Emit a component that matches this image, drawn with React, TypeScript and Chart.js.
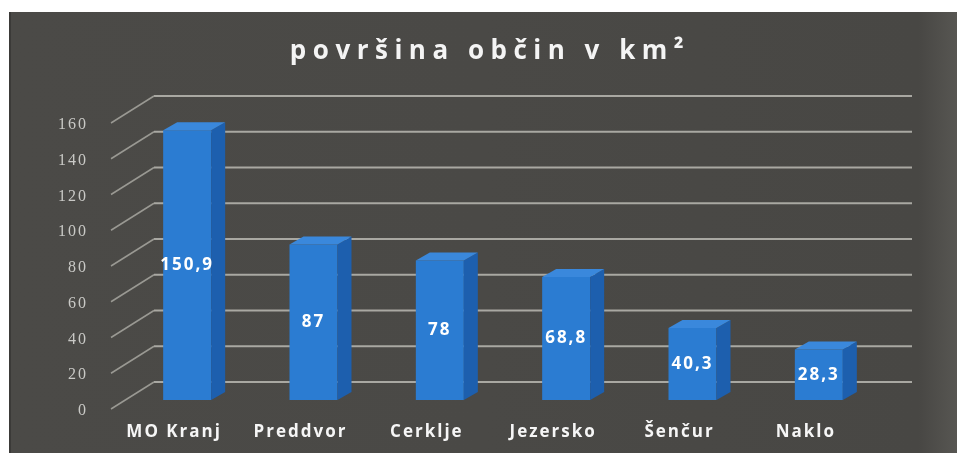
import React, { useEffect, useRef } from "react";
import { Chart, registerables } from "chart.js";

Chart.register(...registerables);

const categories = ["MO Kranj", "Preddvor", "Cerklje", "Jezersko", "Šenčur", "Naklo"];
const areaValues = [150.9, 87, 78, 68.8, 40.3, 28.3];
const yMin = 0;
const yMax = 160;
const yStep = 20;
const titleText = "površina občin v km²";

const W = 957;
const H = 455;
const BACK = { dx: 30, dy: -18 };
const FRONT = { dx: -13, dy: 9 };
const DEPTH = { dx: 14, dy: -8 };

const fmt = (v: number) => String(v).replace(".", ",");

const scenePlugin = {
  id: "scene3d",
  beforeDraw(chart: any) {
    const ctx = chart.ctx as CanvasRenderingContext2D;
    const area = chart.chartArea;
    const ys = chart.scales.y;
    ctx.save();
    ctx.fillStyle = "#ffffff";
    ctx.fillRect(0, 0, W, H);
    const g = ctx.createLinearGradient(9, 0, W, 0);
    g.addColorStop(0, "#4b4a47");
    g.addColorStop(0.5, "#4a4946");
    g.addColorStop(0.96, "#484744");
    g.addColorStop(1, "#575652");
    ctx.fillStyle = g;
    ctx.fillRect(9, 12, W - 9, 441);
    ctx.fillStyle = "#3b3a38";
    ctx.fillRect(9, 12, 2, 441);

    // title
    ctx.fillStyle = "#f4f4f4";
    ctx.font = 'bold 26px "Open Sans"';
    (ctx as any).letterSpacing = "6.5px";
    ctx.textAlign = "center";
    ctx.textBaseline = "alphabetic";
    ctx.fillText(titleText, 490, 59);
    (ctx as any).letterSpacing = "0px";

    // grid: back wall + side wall diagonals
    for (let v = yMin; v <= yMax; v += yStep) {
      const y = ys.getPixelForValue(v);
      ctx.strokeStyle = "#a9a8a2";
      ctx.lineWidth = 2;
      ctx.beginPath();
      ctx.moveTo(area.left + BACK.dx, y + BACK.dy);
      ctx.lineTo(area.right + BACK.dx, y + BACK.dy);
      ctx.stroke();
      ctx.lineWidth = 1.5;
      ctx.strokeStyle = "#9a9993";
      ctx.beginPath();
      ctx.moveTo(area.left + FRONT.dx, y + FRONT.dy);
      ctx.lineTo(area.left + BACK.dx, y + BACK.dy);
      ctx.stroke();
    }
    ctx.restore();
    (ctx as any).letterSpacing = "2px";
  },
  afterDatasetsDraw(chart: any) {
    const ctx = chart.ctx as CanvasRenderingContext2D;
    const meta = chart.getDatasetMeta(0);
    ctx.save();
    (ctx as any).letterSpacing = "0px";
    meta.data.forEach((el: any) => {
      const L = el.x - el.width / 2;
      const R = el.x + el.width / 2;
      const T = el.y;
      const B = el.base;
      // side face
      ctx.fillStyle = "#1d5fae";
      ctx.beginPath();
      ctx.moveTo(R, T);
      ctx.lineTo(R + DEPTH.dx, T + DEPTH.dy);
      ctx.lineTo(R + DEPTH.dx, B + DEPTH.dy);
      ctx.lineTo(R, B);
      ctx.closePath();
      ctx.fill();
      // top face
      ctx.fillStyle = "#3a88dc";
      ctx.beginPath();
      ctx.moveTo(L, T);
      ctx.lineTo(R, T);
      ctx.lineTo(R + DEPTH.dx, T + DEPTH.dy);
      ctx.lineTo(L + DEPTH.dx, T + DEPTH.dy);
      ctx.closePath();
      ctx.fill();
    });
    // data labels
    ctx.fillStyle = "#ffffff";
    ctx.font = 'bold 17px "Open Sans"';
    (ctx as any).letterSpacing = "2px";
    ctx.textAlign = "center";
    ctx.textBaseline = "middle";
    meta.data.forEach((el: any, i: number) => {
      ctx.fillText(fmt(areaValues[i]), el.x, (el.y + el.base) / 2);
    });
    ctx.restore();
    (ctx as any).letterSpacing = "2px";
  },
  afterDraw(chart: any) {
    (chart.ctx as any).letterSpacing = "0px";
  },
};

export default function App() {
  const ref = useRef<HTMLCanvasElement | null>(null);
  useEffect(() => {
    if (!ref.current) return;
    const chart = new Chart(ref.current, {
      type: "bar",
      data: {
        labels: categories,
        datasets: [
          {
            data: areaValues,
            backgroundColor: "#2b7cd2",
            borderWidth: 0,
            barPercentage: 0.38,
            categoryPercentage: 1,
          },
        ],
      },
      options: {
        animation: false,
        responsive: false,
        devicePixelRatio: 1,
        layout: { padding: { left: 24, right: 75, top: 114, bottom: 5 } },
        plugins: { legend: { display: false }, tooltip: { enabled: false }, title: { display: false } },
        scales: {
          x: {
            grid: { display: false, drawTicks: false },
            border: { display: false },
            ticks: {
              color: "#f6f6f6",
              font: { family: '"Open Sans"', size: 17, weight: "bold" },
              padding: 22,
              labelOffset: -13,
              maxRotation: 0,
              autoSkip: false,
            },
            afterFit: (s: any) => {
              s.height = 50;
            },
          },
          y: {
            min: yMin,
            max: yMax,
            grid: { display: false, drawTicks: false },
            border: { display: false },
            ticks: {
              stepSize: yStep,
              color: "#c9c9c6",
              font: { family: '"Liberation Serif"', size: 16 },
              padding: 36,
              labelOffset: 11,
            },
            afterFit: (s: any) => {
              s.width = 100;
            },
          },
        },
      },
      plugins: [scenePlugin],
    });
    return () => chart.destroy();
  }, []);
  return (
    <div style={{ position: "fixed", left: 0, top: 0, width: W, height: H }}>
      <canvas ref={ref} width={W} height={H} style={{ width: W, height: H, display: "block" }} />
    </div>
  );
}
